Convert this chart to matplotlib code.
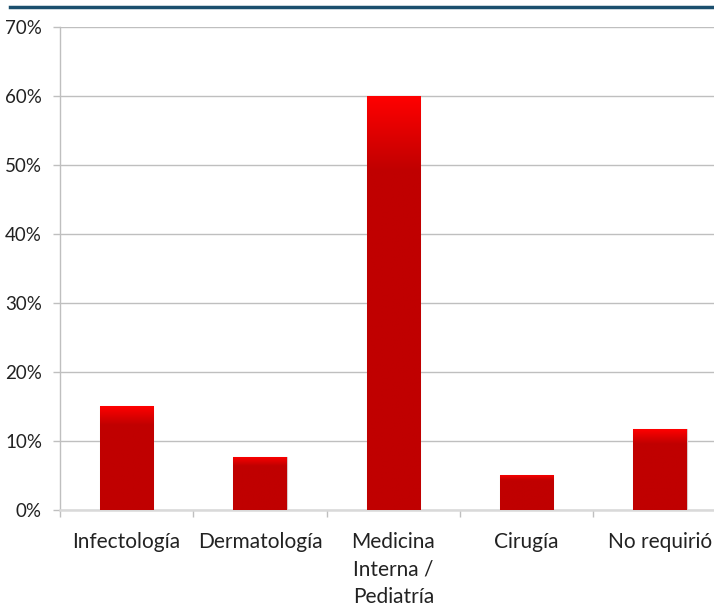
import numpy as np
import matplotlib
matplotlib.use('Agg')
import matplotlib.pyplot as plt
from matplotlib.lines import Line2D
from matplotlib.colors import to_rgb

# data
categories = ['Infectología', 'Dermatología', 'Medicina\nInterna /\nPediatría', 'Cirugía', 'No requirió']
shares = [0.15, 0.077, 0.60, 0.051, 0.117]
yticks = [0.0, 0.1, 0.2, 0.3, 0.4, 0.5, 0.6, 0.7]

plt.rcParams['font.family'] = ['Lato', 'DejaVu Sans']

fig = plt.figure(figsize=(7.14, 6.08), dpi=100)
ax = fig.add_axes([60 / 714, 98 / 608, 666.7 / 714, 483.5 / 608])

x = np.arange(len(categories))
bars = ax.bar(x, shares, width=0.4, color='#C00000', edgecolor='#d9c8c8', linewidth=0.8, zorder=3)

# vertical red gradient at the top of each bar
top_rgb = np.array(to_rgb('#FF0000'))
base_rgb = np.array(to_rgb('#C00000'))
frac = np.linspace(0, 1, 200)
mix = np.clip(frac / 0.18, 0, 1)[:, None]
grad = (top_rgb * (1 - mix) + base_rgb * mix)[:, None, :]
for p in bars:
    x0, w, h = p.get_x(), p.get_width(), p.get_height()
    im = ax.imshow(grad, extent=[x0, x0 + w, 0, h], origin='upper',
                   aspect='auto', interpolation='bilinear', zorder=3.5)
    im.set_clip_path(p)

ax.set_xlim(-0.5, len(categories) - 0.5)
ax.set_ylim(0, 0.7)
ax.set_yticks(yticks)
ax.set_yticklabels(['{:.0f}%'.format(v * 100) for v in yticks])
ax.yaxis.grid(True, color='#bfbfbf', linewidth=1.0, zorder=0)
ax.set_axisbelow(True)

ax.set_xticks(x)
ax.set_xticklabels(categories, linespacing=1.45, va='top')
ax.set_xticks(np.arange(len(categories) + 1) - 0.5, minor=True)
ax.tick_params(axis='x', which='major', length=0, pad=16, labelsize=15, colors='#222222')
ax.tick_params(axis='x', which='minor', length=5, width=1, color='#bfbfbf', direction='out')
ax.tick_params(axis='y', length=5, width=1, color='#bfbfbf', pad=8, labelsize=13.5, labelcolor='#222222')

for s in ['top', 'right']:
    ax.spines[s].set_visible(False)
ax.spines['left'].set_color('#bfbfbf')
ax.spines['left'].set_linewidth(1.0)
ax.spines['bottom'].set_color('#d9d9d9')
ax.spines['bottom'].set_linewidth(1.8)

# dark blue rule across the top
fig.add_artist(Line2D([10 / 714, 1.0], [1 - 7 / 608, 1 - 7 / 608], color='#1B4F6E', linewidth=2.5))

fig.savefig('out.png', dpi=100)
